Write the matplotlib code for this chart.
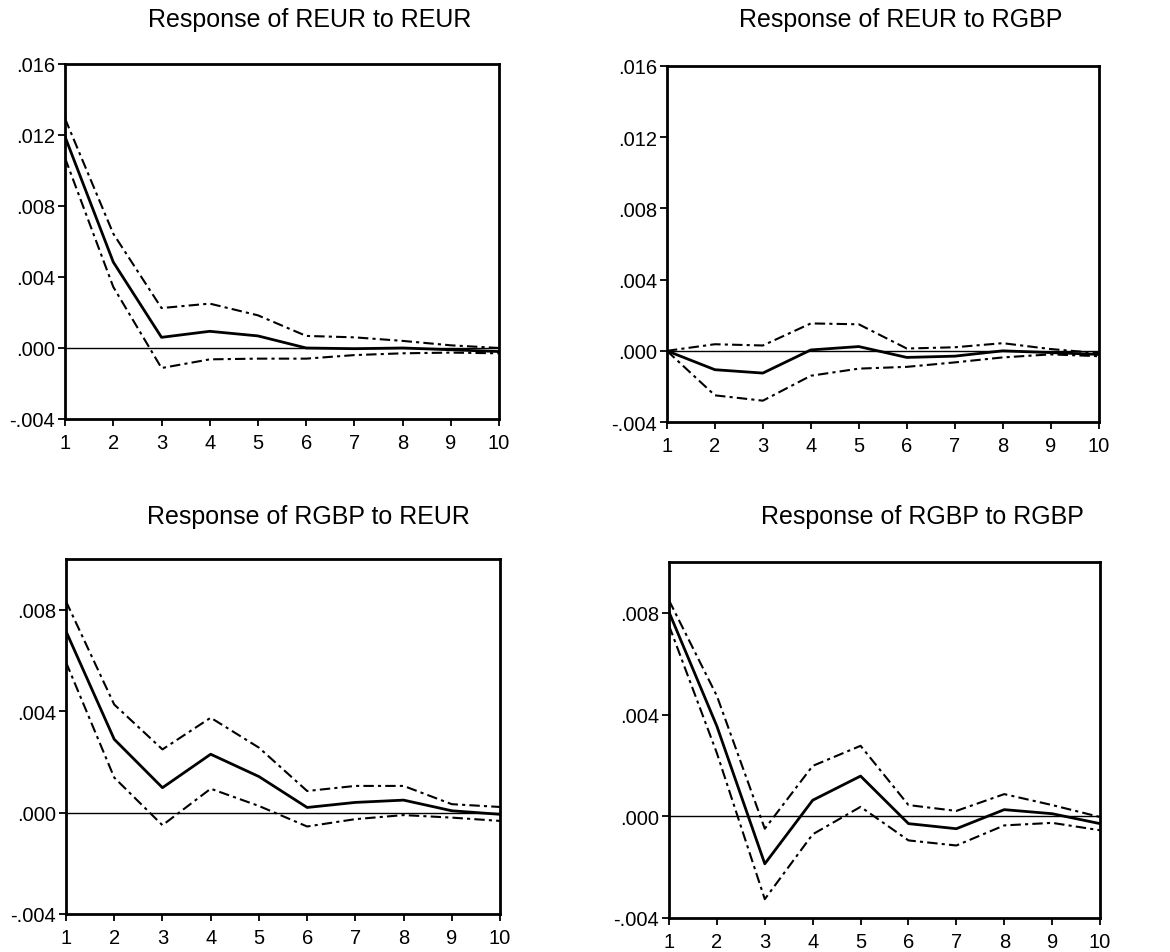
import numpy as np
import matplotlib
matplotlib.use("Agg")
import matplotlib.pyplot as plt
from matplotlib.ticker import FuncFormatter

plt.rcParams['font.family'] = ['Liberation Sans', 'DejaVu Sans']

periods = np.arange(1, 11)

titles = ["Response of REUR to REUR", "Response of REUR to RGBP",
          "Response of RGBP to REUR", "Response of RGBP to RGBP"]

# impulse responses (solid) with +/- 2 S.E. bands (dashed)
eur_eur = [0.0119, 0.00484, 0.0006, 0.00094, 0.00068, 0.0, -0.00004, 0.0, -0.0001, -0.0002]
eur_eur_hi = [0.01292, 0.00644, 0.00225, 0.0025, 0.00184, 0.00068, 0.0006, 0.0004, 0.00015, 0.0]
eur_eur_lo = [0.0107, 0.00344, -0.00113, -0.00064, -0.0006, -0.0006, -0.0004, -0.0003, -0.00026, -0.0003]

eur_gbp = [0.0, -0.00106, -0.00125, 0.00005, 0.00024, -0.00037, -0.0003, 0.0, -0.0001, -0.0002]
eur_gbp_hi = [0.0, 0.00037, 0.0003, 0.00154, 0.00149, 0.00013, 0.0002, 0.00043, 0.0001, -0.00013]
eur_gbp_lo = [0.0, -0.0025, -0.0028, -0.0014, -0.001, -0.0009, -0.00065, -0.00037, -0.0002, -0.0003]

gbp_eur = [0.00715, 0.00289, 0.00098, 0.0023, 0.00142, 0.0002, 0.0004, 0.00049, 0.00007, -0.00007]
gbp_eur_hi = [0.00833, 0.00426, 0.00249, 0.00374, 0.00256, 0.00085, 0.00105, 0.00105, 0.00033, 0.00022]
gbp_eur_lo = [0.00593, 0.00138, -0.0005, 0.00094, 0.00026, -0.00055, -0.00026, -0.0001, -0.0002, -0.00033]

gbp_gbp = [0.00803, 0.00354, -0.00187, 0.00063, 0.00158, -0.00029, -0.00049, 0.00026, 0.0001, -0.00029]
gbp_gbp_hi = [0.00849, 0.00473, -0.00049, 0.00198, 0.00277, 0.00044, 0.00021, 0.00087, 0.00044, -0.00003]
gbp_gbp_lo = [0.0075, 0.00248, -0.00326, -0.00071, 0.00037, -0.00095, -0.00115, -0.00036, -0.00026, -0.00055]

panels = [(eur_eur, eur_eur_hi, eur_eur_lo),
          (eur_gbp, eur_gbp_hi, eur_gbp_lo),
          (gbp_eur, gbp_eur_hi, gbp_eur_lo),
          (gbp_gbp, gbp_gbp_hi, gbp_gbp_lo)]

y_limits = [(-0.004, 0.016), (-0.004, 0.016), (-0.004, 0.010), (-0.004, 0.010)]
y_ticks = [[-0.004, 0.0, 0.004, 0.008, 0.012, 0.016],
           [-0.004, 0.0, 0.004, 0.008, 0.012, 0.016],
           [-0.004, 0.0, 0.004, 0.008],
           [-0.004, 0.0, 0.004, 0.008]]

# axes rectangles [left, bottom, width, height] and title centres
rects = [[0.0556, 0.5593, 0.371, 0.3725],
         [0.570, 0.5561, 0.369, 0.3736],
         [0.0564, 0.0399, 0.371, 0.3725],
         [0.5718, 0.0357, 0.3684, 0.3736]]
title_pos = [(0.265, 0.979), (0.770, 0.979), (0.264, 0.4575), (0.788, 0.4575)]


def fmt(v, pos):
    s = "%.3f" % v
    if s.startswith("-0"):
        return "-" + s[2:]
    if s.startswith("0"):
        return s[1:]
    return s


fig = plt.figure(figsize=(11.7, 9.53), dpi=100, facecolor='white')

for i in range(4):
    ax = fig.add_axes(rects[i])
    mid, hi, lo = panels[i]
    ax.axhline(0, color='black', lw=1.0)
    ax.plot(periods, mid, color='black', lw=2.0)
    ax.plot(periods, hi, color='black', lw=1.5, linestyle=(0, (5, 2, 1.5, 2)))
    ax.plot(periods, lo, color='black', lw=1.5, linestyle=(0, (5, 2, 1.5, 2)))

    ax.set_xlim(1, 10)
    ax.set_ylim(*y_limits[i])
    ax.set_xticks(periods)
    ax.set_yticks(y_ticks[i])
    ax.yaxis.set_major_formatter(FuncFormatter(fmt))
    ax.tick_params(direction='out', length=5, width=1.3, labelsize=14.5)
    ax.tick_params(axis='x', pad=5)
    ax.tick_params(axis='y', pad=2)
    for sp in ax.spines.values():
        sp.set_linewidth(2.0)

    fig.text(title_pos[i][0], title_pos[i][1], titles[i], ha='center', va='center', fontsize=18)

fig.savefig("out.png", dpi=100)
